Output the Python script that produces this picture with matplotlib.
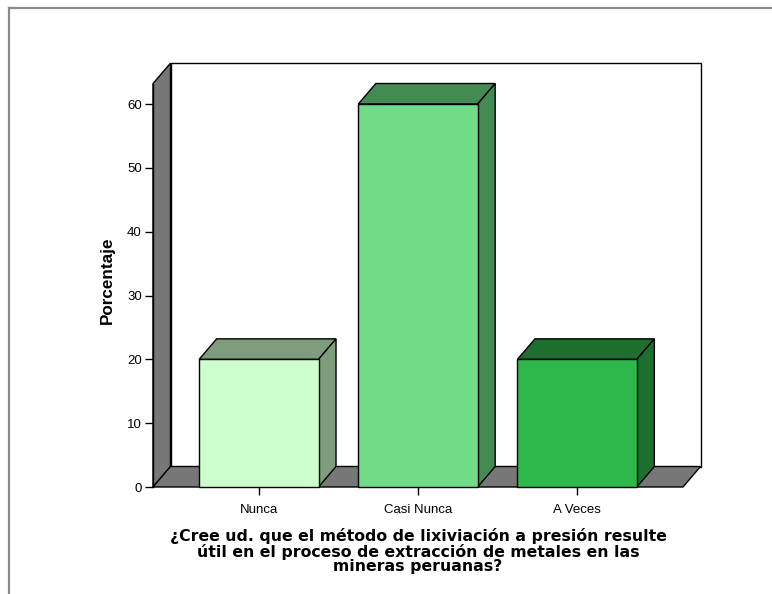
import matplotlib
matplotlib.use("Agg")
import matplotlib.pyplot as plt
from matplotlib.patches import Polygon, Rectangle
from matplotlib.lines import Line2D

categories = ["Nunca", "Casi Nunca", "A Veces"]
percentages = [20.0, 60.0, 20.0]
front_colors = ["#CCFFCC", "#70DC87", "#2EB84B"]
shade_colors = ["#7D9D7D", "#448A53", "#1E6F2E"]
yticks = [0, 10, 20, 30, 40, 50, 60]
xlabel = ("¿Cree ud. que el método de lixiviación a presión resulte\n"
          "útil en el proceso de extracción de metales en las\n"
          "mineras peruanas?")
ylabel = "Porcentaje"

W, H = 772, 594
fig = plt.figure(figsize=(W / 100, H / 100), dpi=100)
fig.patch.set_facecolor("white")

# front plane of the 3-D box, in pixels
left_px, right_px, base_px = 153, 683, 487
px_per_unit = 6.383
ymax = 65
ax = fig.add_axes([left_px / W, (H - base_px) / H,
                   (right_px - left_px) / W, ymax * px_per_unit / H])
x0, x1 = -0.665, 2.665
ax.set_xlim(x0, x1)
ax.set_ylim(0, ymax)
ax.set_facecolor("none")

# depth of the box expressed in data units
cat_px = (right_px - left_px) / (x1 - x0)
dx = 17.5 / cat_px
dy = 20.5 / px_per_unit
wall_h = 63.2
wall_col = "#777777"
edge = dict(edgecolor="black", linewidth=1.0, clip_on=False)

# back wall, side wall and floor
ax.add_patch(Rectangle((x0 + dx, dy), x1 - x0, wall_h, facecolor="white", zorder=1, **edge))
ax.add_patch(Polygon([(x0, 0), (x0 + dx, dy), (x0 + dx, wall_h + dy), (x0, wall_h)],
                     closed=True, facecolor=wall_col, zorder=2, **edge))
ax.add_patch(Polygon([(x0, 0), (x1, 0), (x1 + dx, dy), (x0 + dx, dy)],
                     closed=True, facecolor=wall_col, zorder=2, **edge))

# bars as boxes
bw = 0.75
for i, (v, fc, sc) in enumerate(zip(percentages, front_colors, shade_colors)):
    l, r = i - bw / 2, i + bw / 2
    ax.add_patch(Polygon([(l, v), (r, v), (r + dx, v + dy), (l + dx, v + dy)],
                         closed=True, facecolor=sc, zorder=3, **edge))
    ax.add_patch(Polygon([(r, 0), (r + dx, dy), (r + dx, v + dy), (r, v)],
                         closed=True, facecolor=sc, zorder=3, **edge))
    ax.add_patch(Rectangle((l, 0), bw, v, facecolor=fc, zorder=4, **edge))

for s in ["top", "right", "bottom"]:
    ax.spines[s].set_visible(False)
ax.spines["left"].set_bounds(0, wall_h)
ax.spines["left"].set_linewidth(1.0)
ax.spines["left"].set_zorder(5)

ax.set_yticks(yticks)
ax.set_yticklabels([str(t) for t in yticks])
ax.set_xticks(range(len(categories)))
ax.set_xticklabels(categories)
ax.tick_params(axis="both", length=6, width=1, direction="out", color="black",
               labelsize=9.5, pad=2)
for lab in ax.get_xticklabels() + ax.get_yticklabels():
    lab.set_family("Liberation Sans")
ax.tick_params(axis="x", pad=6)

fig.text(107 / W, 1 - 280 / H, ylabel, rotation=90, ha="center", va="center",
         fontsize=12.3, fontweight="bold", family="Liberation Sans")
fig.text(418 / W, 1 - 551 / H, xlabel, ha="center", va="center",
         fontsize=11.3, fontweight="bold", family="DejaVu Sans", linespacing=1.0)

# outer frame
fig.add_artist(Line2D([9 / W, 1.0], [1 - 8 / H, 1 - 8 / H], transform=fig.transFigure,
                      color="#8A8A8A", linewidth=1.6))
fig.add_artist(Line2D([9 / W, 9 / W], [1 - 8 / H, 0.0], transform=fig.transFigure,
                      color="#8A8A8A", linewidth=1.6))

fig.savefig("out.png", dpi=100)
